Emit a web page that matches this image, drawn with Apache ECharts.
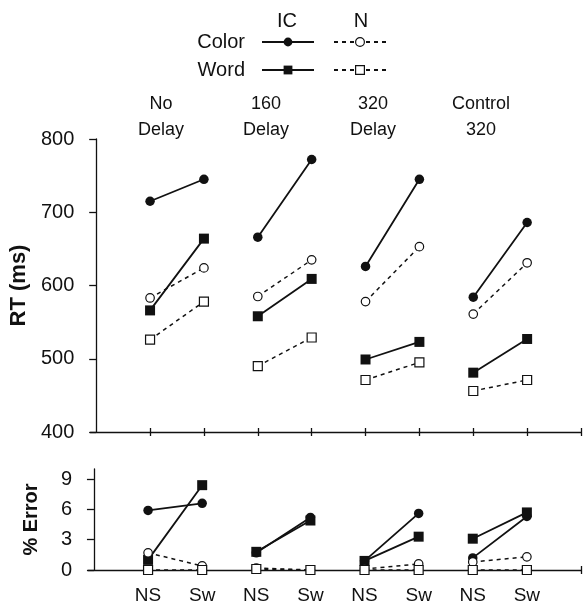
<!DOCTYPE html>
<html>
<head>
<meta charset="utf-8">
<script src="https://cdn.jsdelivr.net/npm/echarts@6/dist/echarts.min.js"></script>
<style>
  html, body { margin: 0; padding: 0; background: #fff; }
  #chart { width: 583px; height: 605px; }
</style>
</head>
<body>
<div id="chart"></div>
<script>
// groups along the x axis, each with a no-switch (NS) and switch (Sw) point
const groupLabels = ['No\nDelay', '160\nDelay', '320\nDelay', 'Control\n320']
const trialLabels = ['NS', 'Sw']

// RT (ms), one [NS, Sw] pair per group
const rtColorIC = [[715, 745], [666, 772], [626, 745], [584, 686]]
const rtColorN = [[583, 624], [585, 635], [578, 653], [561, 631]]
const rtWordIC = [[566, 664], [558, 609], [499, 523], [481, 527]]
const rtWordN = [[526, 578], [490, 529], [471, 495], [456, 471]]

// % error, one [NS, Sw] pair per group
const errColorIC = [[5.9, 6.6], [1.7, 5.2], [0.9, 5.6], [1.2, 5.3]]
const errColorN = [[1.7, 0.4], [0.2, 0], [0.1, 0.6], [0.8, 1.3]]
const errWordIC = [[1.0, 8.4], [1.8, 4.9], [0.9, 3.3], [3.1, 5.7]]
const errWordN = [[0, 0], [0.1, 0], [0, 0], [0, 0]]

const rtTicks = [400, 500, 600, 700, 800]
const errTicks = [0, 3, 6, 9]

const FONT = 'Liberation Sans, Arial, Helvetica, sans-serif'
const INK = '#111'

// x position of trial t in group g: 1,2 | 3,4 | 5,6 | 7,8
const xPos = (g, t) => g * 2 + t + 1
const tickXs = [1, 2, 3, 4, 5, 6, 7, 8, 9]

const styles = {
  'Color IC': { symbol: 'circle', size: 9.5, fill: INK, border: 0, dash: 'solid' },
  'Word IC': { symbol: 'rect', size: 10, fill: INK, border: 0, dash: 'solid' },
  'Color N': { symbol: 'circle', size: 8.5, fill: '#fff', border: 1.2, dash: [4, 4] },
  'Word N': { symbol: 'rect', size: 9, fill: '#fff', border: 1.2, dash: [4, 4] }
}

const makeSeries = (name, pairs, panel) => {
  const st = styles[name]
  const data = []
  pairs.forEach((p, g) => {
    data.push([xPos(g, 0), p[0]], [xPos(g, 1), p[1]])
    if (g < pairs.length - 1) data.push([xPos(g, 1) + 0.5, '-']) // break between groups
  })
  return {
    name,
    type: 'line',
    xAxisIndex: panel * 2,
    yAxisIndex: panel,
    data,
    symbol: st.symbol,
    symbolSize: st.size,
    showSymbol: true,
    connectNulls: false,
    animation: false,
    lineStyle: { color: INK, width: st.dash === 'solid' ? 1.8 : 1.5, type: st.dash },
    itemStyle: { color: st.fill, borderColor: INK, borderWidth: st.border }
  }
}

const series = [
  makeSeries('Color IC', rtColorIC, 0),
  makeSeries('Word IC', rtWordIC, 0),
  makeSeries('Color N', rtColorN, 0),
  makeSeries('Word N', rtWordN, 0),
  makeSeries('Color IC', errColorIC, 1),
  makeSeries('Word IC', errWordIC, 1),
  makeSeries('Color N', errColorN, 1),
  makeSeries('Word N', errWordN, 1)
]

const legendItem = (name, left, top) => ({
  data: [name],
  left,
  top,
  padding: 0,
  itemWidth: 52,
  itemHeight: 11,
  selectedMode: false,
  formatter: () => '',
  itemStyle: { borderWidth: styles[name].border },
  textStyle: { fontSize: 1 }
})

const xAxisPair = (grid, labels) => [
  {
    type: 'value', gridIndex: grid, min: -0.11, max: 9,
    axisLine: { show: true, lineStyle: { color: INK, width: 1.3 } },
    axisTick: { show: true, length: 4, customValues: tickXs, lineStyle: { color: INK, width: 1.3 } },
    axisLabel: labels ? {
      show: true, customValues: [1, 2, 3, 4, 5, 6, 7, 8], margin: 16,
      formatter: v => trialLabels[(Math.round(v) - 1) % 2],
      color: INK, fontSize: 19, fontFamily: FONT
    } : { show: false },
    splitLine: { show: false }
  },
  {
    type: 'value', gridIndex: grid, min: -0.11, max: 9, position: 'bottom',
    axisLine: { show: false },
    axisTick: { show: true, inside: true, length: 4, customValues: tickXs, lineStyle: { color: INK, width: 1.3 } },
    axisLabel: { show: false },
    splitLine: { show: false }
  }
]

const headerX = [161, 266, 373, 481]
const headerY = [104, 130]
const headerText = []
groupLabels.forEach((lab, g) => {
  lab.split('\n').forEach((line, i) => {
    headerText.push({
      type: 'text', x: headerX[g], y: headerY[i],
      style: { text: line, align: 'center', verticalAlign: 'middle', font: '18px ' + FONT, fill: INK }
    })
  })
})

const plainText = (text, x, y, align) => ({
  type: 'text', x, y,
  style: { text, align, verticalAlign: 'middle', font: '20px ' + FONT, fill: INK }
})

const option = {
  backgroundColor: '#fff',
  animation: false,
  grid: [
    { left: 88, top: 139, width: 493, height: 293, containLabel: false },
    { left: 88, top: 469, width: 493, height: 102, containLabel: false }
  ],
  xAxis: [...xAxisPair(0, false), ...xAxisPair(1, true)],
  yAxis: [
    {
      type: 'value', gridIndex: 0, min: 400, max: 800, interval: 100,
      name: 'RT (ms)', nameLocation: 'middle', nameGap: 60, nameRotate: 90,
      nameTextStyle: { fontSize: 22, fontWeight: 'bold', color: INK, fontFamily: FONT },
      axisLine: { show: true, lineStyle: { color: INK, width: 1.3 } },
      axisTick: { show: true, length: 7, customValues: rtTicks, lineStyle: { color: INK, width: 1.3 } },
      axisLabel: { customValues: rtTicks, margin: 16, fontSize: 20, color: INK, fontFamily: FONT },
      splitLine: { show: false }
    },
    {
      type: 'value', gridIndex: 1, min: 0, max: 10,
      name: '% Error', nameLocation: 'middle', nameGap: 47, nameRotate: 90,
      nameTextStyle: { fontSize: 20, fontWeight: 'bold', color: INK, fontFamily: FONT },
      axisLine: { show: true, lineStyle: { color: INK, width: 1.3 } },
      axisTick: { show: true, length: 7, customValues: errTicks, lineStyle: { color: INK, width: 1.3 } },
      axisLabel: { customValues: errTicks, margin: 16, fontSize: 20, color: INK, fontFamily: FONT },
      splitLine: { show: false }
    }
  ],
  legend: [
    legendItem('Color IC', 261, 36.5),
    legendItem('Color N', 333, 36.5),
    legendItem('Word IC', 261, 64.5),
    legendItem('Word N', 333, 64.5)
  ],
  graphic: [
    plainText('IC', 287, 21, 'center'),
    plainText('N', 361, 21, 'center'),
    plainText('Color', 245, 42, 'right'),
    plainText('Word', 245, 70, 'right'),
    ...headerText
  ],
  series
}

const chart = echarts.init(document.getElementById('chart'), null, { renderer: 'canvas' })
chart.setOption(option)
window.addEventListener('resize', () => chart.resize())
</script>
</body>
</html>
